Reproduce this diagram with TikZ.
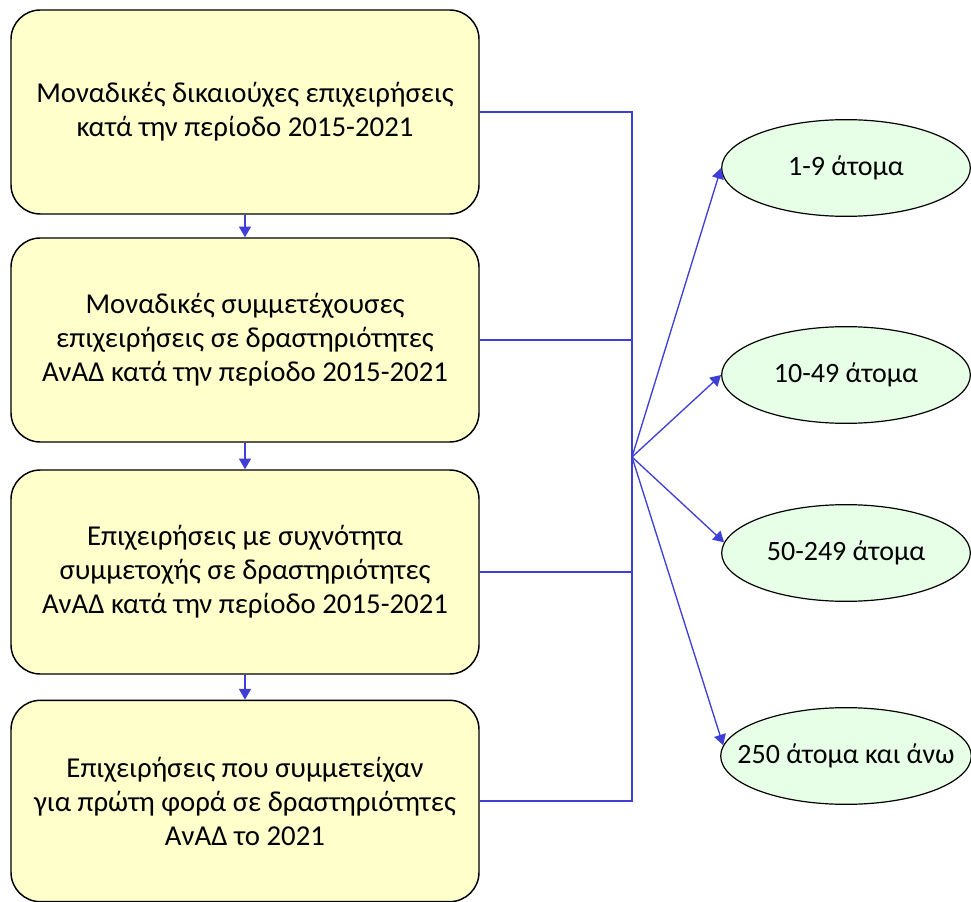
\documentclass[tikz,border=0pt]{standalone}
\usepackage{fontspec}
\setmainfont{Carlito}
\usetikzlibrary{arrows.meta,positioning,shapes.geometric}
\definecolor{stagefill}{HTML}{FFFFCC}
\definecolor{sizefill}{HTML}{E6FFE6}
\definecolor{wireblue}{HTML}{3F3FD7}

\begin{document}
\begin{tikzpicture}[x=0.75pt, y=-0.75pt,
  stage/.style={draw=black, line width=1.1pt, fill=stagefill, rounded corners=22pt,
    minimum width=351pt, minimum height=153pt, inner sep=0pt, align=center,
    font=\fontsize{21.6}{25.5}\selectfont},
  sizeclass/.style={ellipse, draw=black, line width=0.9pt, fill=sizefill,
    minimum width=186.5pt, minimum height=72.5pt, inner xsep=-15pt, inner ysep=0pt,
    font=\fontsize{21}{24}\selectfont},
  wire/.style={draw=wireblue, line width=1pt},
  flow/.style={wire, -{Triangle[length=8pt,width=9pt]}}]
  \useasboundingbox (0,0) rectangle (971,902);

  % Stages of the selection
  \node[stage] (box1) at (245,112) {Μοναδικές δικαιούχες επιχειρήσεις\\κατά την περίοδο 2015-2021};
  \node[stage] (box2) at (245,340) {Μοναδικές συμμετέχουσες\\επιχειρήσεις σε δραστηριότητες\\ΑνΑΔ κατά την περίοδο 2015-2021};
  \node[stage] (box3) at (245,572) {Επιχειρήσεις με συχνότητα\\συμμετοχής σε δραστηριότητες\\ΑνΑΔ κατά την περίοδο 2015-2021};
  \node[stage, minimum height=151pt] (box4) at (245,801) {Επιχειρήσεις που συμμετείχαν\\για πρώτη φορά σε δραστηριότητες\\ΑνΑΔ το 2021};

  \draw[flow] (box1) -- (box2);
  \draw[flow] (box2) -- (box3);
  \draw[flow] (box3) -- (box4);

  % Size classes
  \node[sizeclass] (grp1) at (846,168) {1-9 άτομα};
  \node[sizeclass] (grp2) at (846,375) {10-49 άτομα};
  \node[sizeclass] (grp3) at (846,553) {50-249 άτομα};
  \node[sizeclass] (grp4) at (846,756) {250 άτομα και άνω};

  % Bus on the right
  \coordinate (hub) at (632,457);
  \draw[wire] (box1.east) -| (hub);
  \draw[wire] (box4.east) -| (hub);
  \draw[wire] (box2.east) -- (box2.east -| hub);
  \draw[wire] (box3.east) -- (box3.east -| hub);

  \draw[flow] (hub) -- (grp1.west);
  \draw[flow] (hub) -- (grp2.west);
  \draw[flow] (hub) -- (grp3.175);
  \draw[flow] (hub) -- (grp4.175);
\end{tikzpicture}
\end{document}
